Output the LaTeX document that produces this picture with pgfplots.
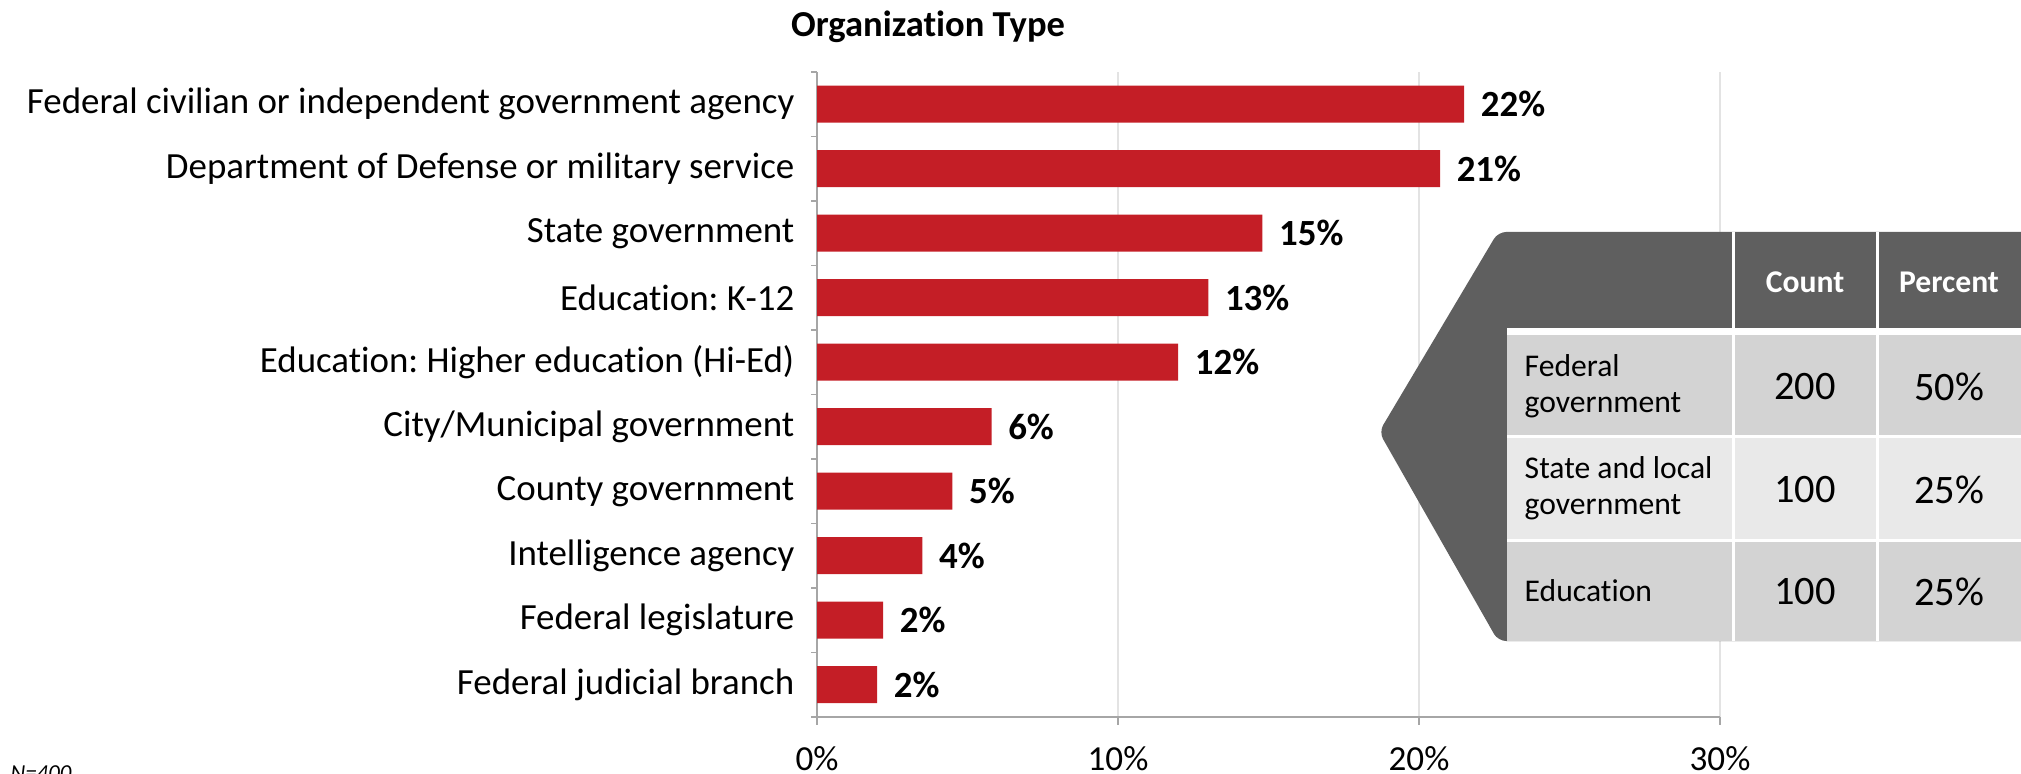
\documentclass[border=0pt]{standalone}
\usepackage{fontspec}
\setmainfont{Carlito}[Ligatures=NoCommon]
\usepackage{pgfplots}
\usepackage{pgfplotstable}
\pgfplotsset{compat=1.18}
\frenchspacing

\definecolor{barred}{HTML}{C41E26}
\definecolor{shapegray}{HTML}{5F5F5F}
\definecolor{rowdark}{HTML}{D3D3D3}
\definecolor{rowlight}{HTML}{E9E9E9}
\definecolor{axisgray}{HTML}{A6A6A6}
\definecolor{gridgray}{HTML}{E3E3E3}

% bottom to top
\pgfplotstableread{
y v lab
0 2.0 2
1 2.2 2
2 3.5 4
3 4.5 5
4 5.8 6
5 12.0 12
6 13.0 13
7 14.8 15
8 20.7 21
9 21.5 22
}\orgdata

\begin{document}
\begin{tikzpicture}
\begin{axis}[
    at={(81.7mm,5.7mm)}, anchor=south west,
    scale only axis, width=90.3mm, height=64.5mm,
    xbar, bar width=3.7mm,
    xmin=0, xmax=30, ymin=-0.5, ymax=9.5,
    axis lines*=left,
    axis line style={axisgray, line width=0.4pt},
    xtick={0,10,20,30},
    xticklabels={0\%,10\%,20\%,30\%},
    xticklabel style={font=\fontsize{10}{12}\selectfont, yshift=-0.9mm},
    xmajorgrids, grid style={gridgray, line width=0.3pt},
    ytick={0,...,9},
    yticklabels={Federal judicial branch,Federal legislature,Intelligence agency,County government,City/Municipal government,Education: Higher education (Hi-Ed),Education: K-12,State government,Department of Defense or military service,Federal civilian or independent government agency},
    yticklabel style={font=\fontsize{10.5}{12.6}\selectfont, inner sep=0pt, xshift=-1.4mm},
    minor ytick={-0.5,0.5,...,9.5},
    tick align=outside,
    major tick length=0.8mm, minor tick length=0.6mm,
    major x tick style={axisgray, line width=0.4pt},
    major y tick style={draw=none},
    minor y tick style={axisgray, line width=0.4pt},
    point meta=explicit symbolic,
    nodes near coords={\pgfplotspointmeta\%},
    nodes near coords style={font=\bfseries\fontsize{10.5}{12.6}\selectfont, anchor=west, inner sep=0pt, xshift=1.6mm},
    clip=false,
]
\addplot[fill=barred, draw=none] table[x=v, y=y, meta=lab] {\orgdata};
\end{axis}

\begin{scope}[x=0.1mm, y=-0.1mm, shift={(0,77.4mm)}]
  % title
  \node[font=\bfseries\fontsize{10.4}{12.5}\selectfont] at (928,27) {Organization Type};
  % arrow-shaped panel
  \fill[shapegray, rounded corners=0.8mm] (1379,432) -- (1498,232) -- (2060,232) -- (2060,641) -- (1498,641) -- cycle;
  \fill[white] (1507,328) rectangle (2060,641);
  \fill[white] (1732,232) rectangle (1735,328);
  \fill[white] (1876,232) rectangle (1879,328);
  % rows
  \fill[rowdark]  (1507,335) rectangle (1732,435);
  \fill[rowdark]  (1735,335) rectangle (1876,435);
  \fill[rowdark]  (1879,335) rectangle (2060,435);
  \fill[rowlight] (1507,438) rectangle (1732,539);
  \fill[rowlight] (1735,438) rectangle (1876,539);
  \fill[rowlight] (1879,438) rectangle (2060,539);
  \fill[rowdark]  (1507,542) rectangle (1732,641);
  \fill[rowdark]  (1735,542) rectangle (1876,641);
  \fill[rowdark]  (1879,542) rectangle (2060,641);
  % header text
  \node[white, font=\bfseries\fontsize{9}{10.8}\selectfont] at (1805,282) {Count};
  \node[white, font=\bfseries\fontsize{9}{10.8}\selectfont] at (1949,282) {Percent};
  % row labels
  \node[anchor=west, inner sep=0pt, align=left, font=\fontsize{9}{10.2}\selectfont] at (1524,386) {Federal\\government};
  \node[anchor=west, inner sep=0pt, align=left, font=\fontsize{9}{10.2}\selectfont] at (1524,488) {State and local\\government};
  \node[anchor=west, inner sep=0pt, align=left, font=\fontsize{9}{10.2}\selectfont] at (1524,591) {Education};
  % numbers
  \node[font=\fontsize{11.5}{13.8}\selectfont] at (1805,387) {200};
  \node[font=\fontsize{11.5}{13.8}\selectfont] at (1949,387) {50\%};
  \node[font=\fontsize{11.5}{13.8}\selectfont] at (1805,490) {100};
  \node[font=\fontsize{11.5}{13.8}\selectfont] at (1949,490) {25\%};
  \node[font=\fontsize{11.5}{13.8}\selectfont] at (1805,592) {100};
  \node[font=\fontsize{11.5}{13.8}\selectfont] at (1949,592) {25\%};
  % footnote, partly below the page edge
  \node[anchor=north west, inner sep=0pt, font=\itshape\fontsize{6.5}{7.8}\selectfont] at (10,765) {N=400};
\end{scope}

\pgfresetboundingbox
\path[use as bounding box] (0,0) rectangle (202.1mm,77.4mm);
\end{tikzpicture}
\end{document}
